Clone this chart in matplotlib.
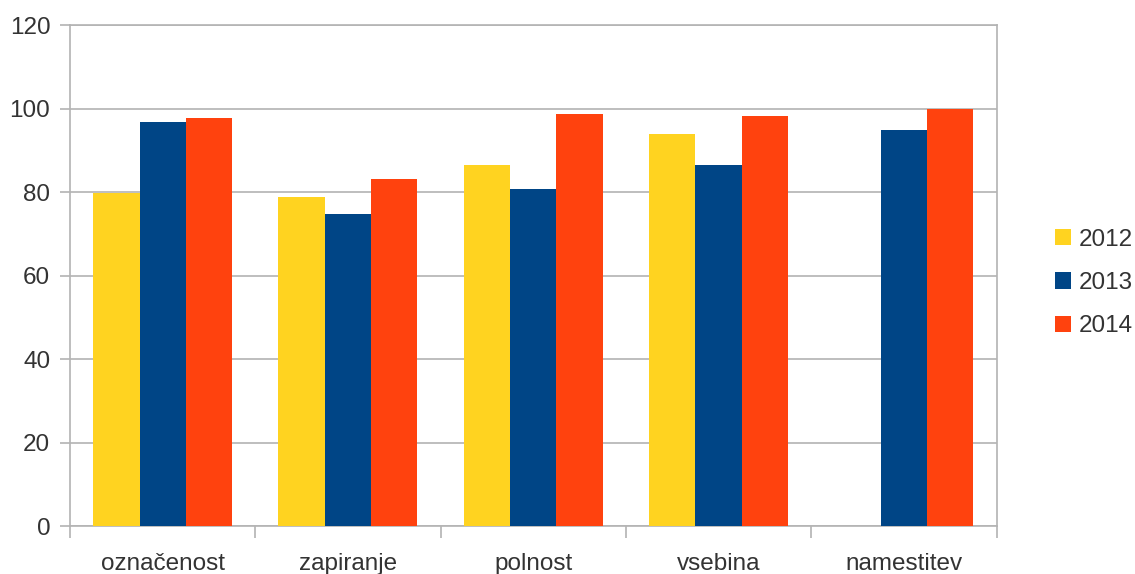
import matplotlib.pyplot as plt
import numpy as np

plt.rcParams['font.family'] = ['Liberation Sans', 'DejaVu Sans']

kategorije = ['označenost', 'zapiranje', 'polnost', 'vsebina', 'namestitev']
leta = ['2012', '2013', '2014']
v2012 = [79.8, 78.7, 86.4, 93.8, np.nan]
v2013 = [96.8, 74.7, 80.7, 86.4, 94.8]
v2014 = [97.7, 83.0, 98.8, 98.3, 100.0]
barve = ['#ffd320', '#004586', '#ff420e']

fig = plt.figure(figsize=(11.35, 5.74), dpi=100)
ax = fig.add_axes([0.0617, 0.0836, 0.8163, 0.8728])

x = np.arange(len(kategorije))
w = 0.25
for i, (vals, lab, c) in enumerate(zip([v2012, v2013, v2014], leta, barve)):
    ax.bar(x + (i - 1) * w, vals, width=w, color=c, label=lab, zorder=3)

siva = '#b3b3b3'
ax.set_xlim(-0.5, len(kategorije) - 0.5)
ax.set_ylim(0, 120)
ax.set_yticks(range(0, 121, 20))
ax.grid(axis='y', color=siva, linewidth=1.2, zorder=0)
for s in ax.spines.values():
    s.set_color(siva)
    s.set_linewidth(1.2)

ax.set_xticks(x)
ax.set_xticklabels(kategorije)
ax.set_xticks(np.arange(-0.5, len(kategorije)), minor=True)
ax.tick_params(axis='x', which='major', length=0, pad=19.5, labelsize=17.5, labelcolor='#333333')
ax.tick_params(axis='x', which='minor', length=8.5, width=1.2, color=siva)
ax.tick_params(axis='y', length=7.2, width=1.2, color=siva, pad=7, labelsize=17.5, labelcolor='#333333')

fig.legend(loc='center left', bbox_to_anchor=(1055 / 1135, 1 - 283 / 574), frameon=False,
           fontsize=17.5, handlelength=0.66, handleheight=0.66, handletextpad=0.3,
           labelspacing=0.88, borderpad=0, borderaxespad=0, labelcolor='#333333')

fig.savefig('out.png', dpi=100)
